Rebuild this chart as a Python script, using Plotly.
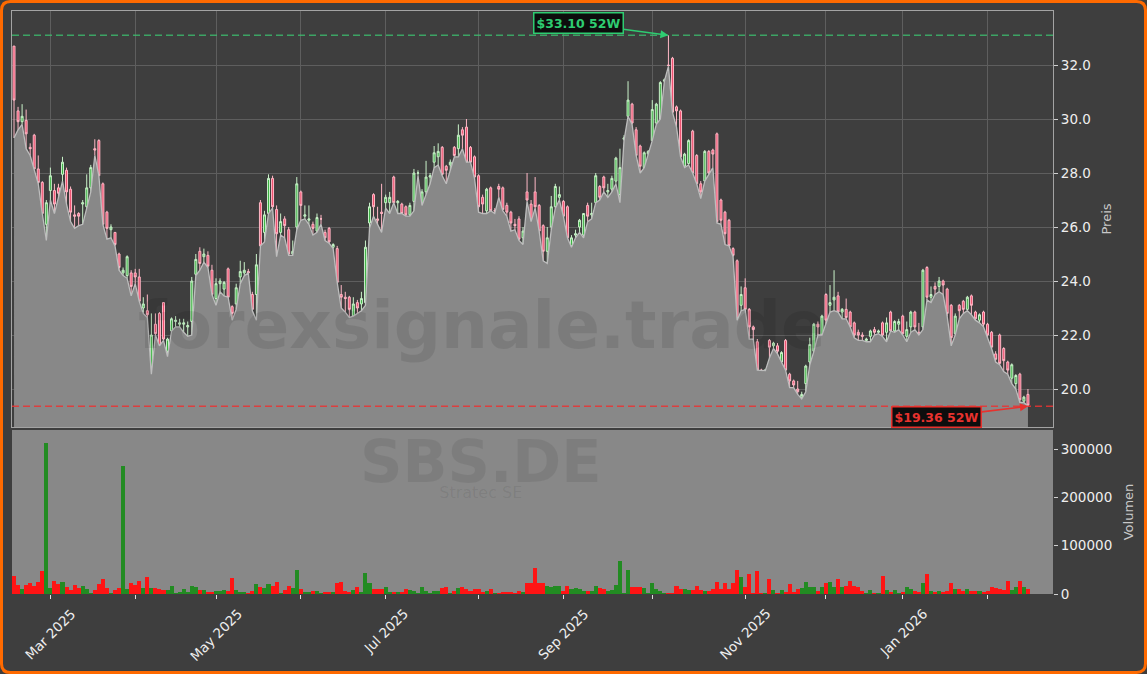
import plotly.graph_objects as go

# ---------------- data ----------------
opens = [32.7,30.3,29.9,29.95,28.95,29.4,28.15,27.65,26.1,27.35,
27.35,27.45,27.95,28.1,27.4,26.45,26.5,26.85,26.75,27.45,
28.9,29.2,27.6,26.55,25.9,25.8,25.0,24.3,24.2,24.3,
24.3,24.15,23.0,22.9,20.55,22.4,22.8,23.2,21.4,22.15,
22.5,22.4,22.4,22.3,22.5,24.25,25.1,24.9,24.95,24.4,
23.35,23.9,23.7,24.45,23.05,23.15,24.15,24.3,24.35,23.5,
23.5,26.9,25.8,26.5,27.8,26.65,25.8,26.3,25.9,25.0,
26.0,27.3,26.4,26.25,26.1,25.85,26.3,25.8,25.95,25.25,
25.2,23.5,23.4,23.4,22.7,23.2,23.15,23.2,26.15,27.2,
26.3,26.55,26.9,26.9,27.85,26.9,26.85,26.75,26.45,26.95,
28.0,26.85,27.3,27.85,28.4,28.6,28.95,28.25,28.3,28.95,
28.9,29.6,29.7,28.95,28.6,27.9,27.1,26.6,27.45,26.6,
27.5,27.45,26.8,26.55,26.1,26.3,25.6,27.3,26.85,27.3,
26.8,26.05,25.1,26.0,26.75,27.1,26.95,26.75,25.3,25.7,
26.0,25.7,26.8,26.45,26.9,27.5,27.85,27.3,27.4,27.7,
27.2,29.25,30.1,30.55,29.6,29.0,28.2,28.7,29.2,29.85,
30.0,31.4,32.0,32.25,30.45,30.3,28.25,28.35,29.55,28.65,
27.6,27.7,28.8,28.85,29.45,27.0,26.55,26.25,25.2,24.75,
23.1,23.75,22.95,22.3,21.75,20.7,20.7,21.8,21.6,21.6,
21.0,21.8,20.55,20.3,20.0,19.7,20.2,21.0,21.4,22.4,
22.0,23.5,23.1,23.3,23.45,22.85,22.95,22.85,22.45,22.1,
22.0,21.8,21.95,22.2,22.1,22.45,22.1,22.85,22.15,22.4,
22.7,21.95,22.3,22.85,22.1,22.3,24.5,23.4,23.8,23.8,
24.0,23.7,23.1,22.05,23.1,23.25,22.95,23.45,22.85,22.55,
22.85,22.4,22.1,21.3,22.0,21.5,21.0,20.4,20.2,20.55,
19.55,19.8]

highs = [32.7,30.45,30.55,30.35,29.1,29.45,28.65,27.7,27.0,28.2,
27.6,27.6,28.6,28.2,27.5,26.8,26.55,27.0,27.95,28.3,
29.25,29.25,27.65,26.6,26.1,25.8,25.05,24.5,24.95,24.4,
24.45,24.45,23.4,23.5,22.8,22.8,22.85,23.2,21.9,22.65,
22.7,22.6,22.6,22.5,24.15,25.0,25.25,25.2,25.1,24.6,
24.1,24.1,24.0,24.5,23.1,23.9,24.75,24.7,24.45,23.6,
25.0,27.0,26.6,27.95,27.9,26.8,26.5,26.4,26.0,25.5,
27.85,27.35,26.8,26.8,26.2,26.5,26.45,25.9,26.0,25.4,
25.3,23.85,23.6,23.45,23.4,23.3,23.6,25.5,26.9,27.25,
26.75,27.6,27.2,27.3,27.9,27.0,26.9,26.8,26.9,28.15,
28.1,27.4,28.45,28.0,29.0,29.1,29.0,28.3,28.5,29.0,
29.8,29.7,30.0,29.0,28.65,27.95,27.2,27.45,27.5,26.7,
27.6,27.5,26.9,26.6,26.3,26.4,26.0,28.0,27.0,27.85,
26.85,26.1,26.0,27.15,27.6,27.5,27.0,26.8,25.7,25.9,
26.3,26.5,26.9,26.9,28.0,27.55,27.9,27.6,27.9,28.6,
28.9,29.4,31.4,30.6,29.7,29.05,28.8,28.85,30.7,30.6,
31.4,31.5,33.1,32.3,30.5,30.35,28.75,29.25,29.6,28.7,
27.7,28.85,28.85,28.9,29.5,27.05,26.6,26.3,25.25,24.8,
23.8,24.1,23.0,22.35,21.85,20.75,20.75,21.85,21.75,21.7,
21.4,21.85,20.6,20.35,20.3,19.9,20.9,21.9,22.45,22.5,
22.75,23.55,23.85,24.4,23.6,23.0,23.35,22.9,22.5,22.2,
22.1,21.9,22.2,22.3,22.2,22.5,22.65,22.9,22.55,22.6,
22.75,22.5,22.9,22.9,22.45,24.45,24.55,23.8,23.95,24.15,
24.05,23.75,23.15,22.8,23.15,23.3,23.45,23.5,22.9,22.8,
22.9,22.45,22.15,21.4,22.05,21.55,21.05,20.95,20.55,20.6,
19.75,20.0]

lows = [29.3,29.6,29.8,28.9,28.65,28.15,27.6,26.5,25.5,27.0,
26.5,27.1,27.7,26.85,26.2,25.95,26.05,26.1,26.65,27.3,
28.65,27.9,26.1,25.55,25.6,25.3,24.4,24.2,24.1,23.45,
23.9,23.25,22.8,22.65,20.55,22.0,21.6,21.8,21.2,22.15,
22.3,22.3,22.1,21.95,22.0,24.2,24.4,24.7,24.5,23.5,
23.1,23.6,23.45,23.4,22.55,22.95,23.9,24.2,24.3,22.9,
22.55,25.3,25.45,26.5,26.7,24.9,25.7,25.6,24.95,24.95,
25.9,26.25,26.3,26.1,25.7,25.8,26.1,25.5,25.4,25.2,
23.95,23.0,22.85,22.65,22.7,22.8,22.9,23.1,25.95,26.4,
26.1,25.8,26.7,26.5,26.9,26.5,26.5,26.4,26.4,26.6,
27.9,26.8,27.2,27.6,28.2,28.3,27.9,27.6,28.1,28.6,
28.6,28.9,28.4,28.4,27.8,26.55,26.5,26.5,26.6,26.5,
27.1,26.6,26.4,25.85,25.9,25.5,25.35,26.95,26.2,26.7,
25.85,24.75,24.65,25.9,26.7,27.0,26.4,25.6,25.25,25.6,
25.8,25.6,26.2,26.3,26.9,27.0,27.3,27.1,27.3,27.6,
26.9,29.2,30.1,29.8,28.65,28.0,28.2,28.7,29.2,29.8,
30.0,31.4,31.95,30.25,29.7,28.6,28.2,28.3,28.0,27.6,
27.05,27.7,27.95,28.2,26.15,26.1,25.35,25.3,24.9,22.55,
22.9,22.95,21.85,21.85,20.7,20.68,20.68,21.15,21.5,21.3,
21.0,20.7,20.05,20.05,19.8,19.63,19.9,20.9,21.4,22.0,
22.0,22.4,22.85,22.9,22.85,22.6,22.6,22.3,21.9,21.8,
21.8,21.75,21.75,22.0,22.05,21.95,21.75,22.15,22.1,22.2,
22.0,21.75,22.1,22.2,22.0,22.2,23.3,23.2,23.5,23.6,
23.5,22.7,21.6,22.0,22.6,22.8,22.9,22.75,22.55,22.45,
22.3,21.9,21.5,21.0,20.9,20.65,20.55,20.2,20.0,19.5,
19.5,19.36]

closes = [30.7,29.9,30.1,29.45,28.9,28.15,27.65,26.5,26.9,27.9,
26.85,27.25,28.4,27.3,26.55,26.4,26.4,26.9,27.45,28.2,
28.85,27.9,26.1,25.95,26.0,25.35,24.5,24.4,24.9,23.8,
24.15,23.25,23.15,22.75,22.0,22.05,21.6,21.85,21.85,22.6,
22.55,22.45,22.45,22.35,24.0,24.8,24.65,25.0,24.55,23.5,
23.9,24.0,23.95,23.4,22.8,23.75,24.35,24.4,24.3,22.95,
24.6,25.3,26.45,27.8,26.75,25.75,26.2,26.05,25.0,25.1,
27.6,26.8,26.45,26.3,25.95,26.35,26.3,25.6,25.45,25.35,
23.95,23.4,23.35,22.95,23.15,23.0,23.35,25.25,26.75,26.75,
26.25,26.5,27.1,27.1,26.9,26.95,26.5,26.45,26.8,28.0,
28.0,27.3,27.85,27.9,28.75,28.8,27.95,28.1,28.4,28.65,
29.4,29.4,28.4,28.4,27.85,26.75,26.85,27.4,26.6,26.6,
27.4,26.65,26.55,26.15,26.05,25.55,25.85,27.0,26.25,26.75,
25.85,25.1,25.6,26.75,27.5,27.2,26.4,25.6,25.6,25.75,
26.25,26.5,26.4,26.5,27.9,27.1,27.45,27.35,27.8,28.55,
28.2,29.3,30.7,29.85,28.65,28.25,28.75,28.8,30.35,30.55,
31.35,31.45,31.98,30.25,30.3,28.6,28.7,29.2,28.0,27.6,
27.3,28.8,28.0,28.7,26.2,26.25,25.75,25.3,24.95,22.6,
23.5,22.95,22.3,22.2,20.7,20.68,20.7,21.55,21.7,21.4,
21.35,20.7,20.3,20.15,19.9,19.8,20.85,21.65,22.4,22.3,
22.7,22.55,23.2,23.4,22.85,22.95,22.65,22.3,22.0,22.0,
21.95,21.85,22.15,22.1,22.15,22.0,22.45,22.15,22.5,22.5,
22.05,22.2,22.85,22.3,22.0,24.4,23.4,23.5,23.7,24.0,
23.85,22.8,21.9,22.7,22.9,22.95,23.4,23.1,22.6,22.75,
22.4,22.0,21.55,21.1,20.95,21.05,20.7,20.9,20.5,19.6,
19.7,19.4]

volumes = [37000,19000,10000,19000,23000,16000,25000,47000,313000,12000,
27000,21000,25000,15000,8000,19000,12000,17000,10000,2000,
8000,21000,32000,12000,1000,8000,12000,265000,10000,23000,
18000,27000,12000,36000,12000,12000,10000,8000,8000,17000,
1000,4000,10000,5000,17000,14000,8000,8000,3000,4000,
6000,6000,8000,6000,33000,8000,4000,3000,1000,7000,
20000,15000,13000,21000,17000,25000,1000,8000,17000,12000,
50000,10000,4000,3000,6000,6000,1000,4000,4000,4000,
23000,25000,6000,4000,8000,15000,4000,44000,23000,10000,
10000,10000,14000,5000,3000,3000,3000,10000,8000,6000,
1000,14000,6000,1000,6000,6000,13000,15000,1000,6000,
13000,15000,10000,7000,10000,10000,5000,6000,10000,1000,
2000,5000,4000,4000,1000,6000,4000,23000,23000,54000,
22000,23000,17000,15000,17000,17000,6000,17000,10000,13000,
10000,6000,6000,6000,17000,13000,10000,6000,8000,19000,
69000,1000,50000,14000,14000,14000,13000,1000,23000,10000,
6000,1000,1000,1000,17000,10000,10000,8000,8000,17000,
8000,6000,6000,10000,25000,10000,23000,10000,23000,50000,
36000,15000,41000,1000,47000,1000,1000,31000,8000,1000,
8000,5000,21000,5000,10000,12000,25000,14000,14000,6000,
14000,23000,25000,14000,31000,14000,17000,27000,17000,15000,
6000,1000,8000,1000,1000,37000,8000,4000,8000,1000,
4000,14000,10000,6000,5000,23000,41000,6000,3000,6000,
5000,6000,23000,10000,10000,6000,10000,6000,6000,6000,
5000,6000,15000,13000,10000,8000,27000,8000,15000,27000,
15000,10000]

idx = list(range(len(closes)))

month_ticks = [9, 30, 50, 71, 92, 115, 136, 158, 181, 201, 220, 241]
month_labels = ["Mar 2025", "", "May 2025", "", "Jul 2025", "", "Sep 2025", "",
                "Nov 2025", "", "Jan 2026", ""]
price_ticks = [20, 22, 24, 26, 28, 30, 32]
volume_ticks = [0, 100000, 200000, 300000]
high_52w = 33.10
low_52w = 19.36
high_idx = 162
low_idx = 251
ticker = "SBS.DE"
company = "Stratec SE"
watermark = "forexsignale.trade"

# ---------------- styling ----------------
W, H = 1147, 674
ML, MR, MT, MB = 12, 94, 11, 80
PW, PH = W - ML - MR, H - MT - MB
BG = "#3e3e3e"
GREY = "#888888"
FONT = "DejaVu Sans"

def paper(px, py):
    return (px - ML) / PW, (H - MB - py) / PH

vol_colors = ["#228b22" if c >= o else "#ff1414" for o, c in zip(opens, closes)]

fig = go.Figure()

fig.add_trace(go.Scatter(
    x=idx, y=lows, mode="lines", fill="tozeroy",
    line=dict(color="#bdbdbd", width=1.3), fillcolor=GREY,
    xaxis="x", yaxis="y", hoverinfo="skip", showlegend=False))

fig.add_trace(go.Candlestick(
    x=idx, open=opens, high=highs, low=lows, close=closes,
    increasing=dict(line=dict(color="#c9f2c9", width=1), fillcolor="#3cb043"),
    decreasing=dict(line=dict(color="#ffb8c6", width=1), fillcolor="#ee4d6c"),
    xaxis="x", yaxis="y", showlegend=False))

fig.add_trace(go.Bar(
    x=idx, y=volumes, marker=dict(color=vol_colors, line=dict(width=0)),
    xaxis="x2", yaxis="y2", showlegend=False))

shapes = []
shapes.append(dict(type="rect", xref="x2 domain", yref="y2 domain", x0=0, x1=1, y0=0, y1=1,
                   fillcolor=GREY, line=dict(width=0), layer="below"))
shapes.append(dict(type="line", xref="x domain", yref="y", x0=0, x1=1, y0=high_52w, y1=high_52w,
                   line=dict(color="rgba(60,190,110,0.8)", width=1.6, dash="7px,4px")))
shapes.append(dict(type="line", xref="x domain", yref="y", x0=0, x1=1, y0=low_52w, y1=low_52w,
                   line=dict(color="rgba(235,50,50,0.85)", width=1.6, dash="7px,4px")))

x0p, y0p, x1p, y1p, r = 1.5, 1.5, W - 1.5, H - 1.5, 9
def P(px, py):
    a, b = paper(px, py)
    return f"{a:.5f},{b:.5f}"
path = (f"M {P(x0p + r, y0p)} L {P(x1p - r, y0p)} Q {P(x1p, y0p)} {P(x1p, y0p + r)} "
        f"L {P(x1p, y1p - r)} Q {P(x1p, y1p)} {P(x1p - r, y1p)} "
        f"L {P(x0p + r, y1p)} Q {P(x0p, y1p)} {P(x0p, y1p - r)} "
        f"L {P(x0p, y0p + r)} Q {P(x0p, y0p)} {P(x0p + r, y0p)} Z")
shapes.append(dict(type="path", xref="paper", yref="paper", path=path,
                   line=dict(color="#ff6a00", width=3), layer="above"))

annotations = []
wx, wy = paper(482, 325)
annotations.append(dict(text=f"<b>{watermark}</b>", xref="paper", yref="paper", x=wx, y=wy,
                        showarrow=False, font=dict(family=FONT, size=66, color="rgba(0,0,0,0.09)"),
                        xanchor="center", yanchor="middle"))
# ticker + company name in one block (ticker large, name small underneath)
sx, sy = paper(481, 464)
annotations.append(dict(
    text=f"<b><span style='font-size:59px'>{ticker}</span></b><br>"
         f"<span style='font-size:16px'>{company}</span>",
    xref="paper", yref="paper", x=sx, y=sy, showarrow=False, align="center",
    font=dict(family=FONT, size=12, color="rgba(0,0,0,0.075)"),
    xanchor="center", yanchor="middle"))

# month labels (centered under their ticks, rotated 45°)
_, ly = paper(0, 603)
for t, lab in zip(month_ticks, month_labels):
    if lab:
        annotations.append(dict(text=lab, x=t, y=ly, xref="x2", yref="paper", showarrow=False,
                                textangle=-45, xanchor="center", yanchor="top",
                                font=dict(family=FONT, size=13.5, color="#eeeeee")))

annotations.append(dict(text=f"<b>${high_52w:.2f} 52W</b>", x=high_idx, y=high_52w, xref="x", yref="y",
                        ax=-90, ay=-12, showarrow=True, arrowhead=2, arrowsize=1, arrowwidth=1.6,
                        arrowcolor="#2ecc71", bgcolor="#0d0d0d", bordercolor="#2ecc71", borderwidth=1.5,
                        borderpad=2, font=dict(family=FONT, size=12.5, color="#2ecc71")))
annotations.append(dict(text=f"<b>${low_52w:.2f} 52W</b>", x=low_idx, y=low_52w, xref="x", yref="y",
                        ax=-91, ay=11, showarrow=True, arrowhead=2, arrowsize=1, arrowwidth=1.6,
                        arrowcolor="#e8322e", bgcolor="#0d0d0d", bordercolor="#e8322e", borderwidth=1.5,
                        borderpad=2, font=dict(family=FONT, size=12.5, color="#e8322e")))

price_dom0 = (H - MB - 427) / PH
vol_dom1 = (H - MB - 430) / PH
xr = [-0.5, 257.2]

fig.update_layout(
    width=W, height=H,
    margin=dict(l=ML, r=MR, t=MT, b=MB, pad=0, autoexpand=False),
    paper_bgcolor=BG, plot_bgcolor=BG,
    font=dict(family=FONT, color="#e6e6e6", size=13),
    showlegend=False, bargap=0, hovermode=False,
    xaxis=dict(domain=[0, 1], anchor="y", range=xr, rangeslider=dict(visible=False), automargin=False,
               tickvals=month_ticks, ticktext=["" for _ in month_ticks], ticks="",
               showgrid=True, gridcolor="#5e5e5e", gridwidth=1, zeroline=False,
               showline=True, mirror=True, linecolor="#a3a3a3", linewidth=1.2),
    yaxis=dict(domain=[price_dom0, 1], anchor="x", side="right", range=[18.593, 34.0], automargin=False,
               tickvals=price_ticks, tickformat=".1f", ticks="outside", ticklen=4, tickcolor="#d0d0d0",
               showgrid=True, gridcolor="#5e5e5e", gridwidth=1, zeroline=False,
               showline=True, mirror=True, linecolor="#a3a3a3", linewidth=1.2,
               tickfont=dict(size=13.5, color="#eeeeee"),
               title=dict(text="Preis", font=dict(size=13, color="#c8c8c8"), standoff=12)),
    xaxis2=dict(domain=[0, 1], anchor="y2", range=xr, matches="x", automargin=False,
                tickvals=month_ticks, showticklabels=False,
                ticks="outside", ticklen=4, tickcolor="#e0e0e0", showgrid=False, zeroline=False,
                showline=False),
    yaxis2=dict(domain=[0, vol_dom1], anchor="x2", side="right", range=[0, 339300], automargin=False,
                tickvals=volume_ticks, tickformat="d", ticks="outside", ticklen=4, tickcolor="#d0d0d0",
                showgrid=False, zeroline=False, showline=False,
                tickfont=dict(size=13.5, color="#eeeeee"),
                title=dict(text="Volumen", font=dict(size=13, color="#c8c8c8"), standoff=12)),
    shapes=shapes, annotations=annotations,
)

fig.write_html("out.html", config={"displayModeBar": False},
               post_script="document.body.style.margin='0';document.body.style.background='#ffffff';")
